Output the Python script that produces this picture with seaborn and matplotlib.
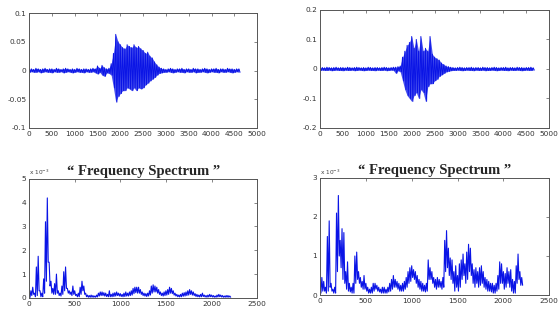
import numpy as np
import pandas as pd
import matplotlib
matplotlib.use("Agg")
import matplotlib.pyplot as plt
import seaborn as sns

sns.set_theme(style="white")
plt.rcParams["font.family"] = ["DejaVu Sans"]

# ---------------- data ----------------
# speech waveforms: upper / lower envelope every 50 samples
wave_step = 50
wave1_top = [0.002, 0.003, 0.002, 0.004, 0.003, 0.002, 0.003, 0.004, 0.002, 0.003,
             0.003, 0.002, 0.004, 0.003, 0.002, 0.003, 0.004, 0.003, 0.002, 0.003,
             0.002, 0.004, 0.003, 0.002, 0.003, 0.003, 0.002, 0.003, 0.004,
             0.003, 0.008, 0.004, 0.009, 0.005, 0.003, 0.004, 0.012,
             0.030, 0.063, 0.050, 0.045, 0.040, 0.038, 0.045, 0.042, 0.040, 0.045,
             0.040, 0.042, 0.038, 0.035, 0.030, 0.032, 0.025, 0.022, 0.015, 0.010,
             0.006, 0.004,
             0.003, 0.002, 0.003, 0.004, 0.003, 0.002, 0.003, 0.003, 0.004, 0.002,
             0.003, 0.003, 0.002, 0.004, 0.003, 0.003, 0.002, 0.003, 0.004, 0.003,
             0.002, 0.003, 0.003, 0.004, 0.002, 0.003, 0.003, 0.002, 0.004, 0.003,
             0.003, 0.002, 0.003, 0.003]
wave1_bot = [-0.003, -0.002, -0.003, -0.003, -0.002, -0.004, -0.003, -0.002, -0.003, -0.003,
             -0.004, -0.002, -0.003, -0.003, -0.002, -0.004, -0.003, -0.002, -0.003, -0.004,
             -0.003, -0.002, -0.003, -0.003, -0.004, -0.002, -0.003, -0.003, -0.002,
             -0.004, -0.006, -0.003, -0.008, -0.010, -0.004, -0.005, -0.008,
             -0.030, -0.055, -0.045, -0.040, -0.035, -0.035, -0.030, -0.032, -0.035, -0.030,
             -0.035, -0.030, -0.032, -0.030, -0.025, -0.022, -0.018, -0.015, -0.012, -0.008,
             -0.005, -0.004,
             -0.003, -0.003, -0.002, -0.003, -0.004, -0.003, -0.002, -0.003, -0.003, -0.004,
             -0.002, -0.003, -0.003, -0.002, -0.004, -0.003, -0.003, -0.002, -0.003, -0.004,
             -0.003, -0.002, -0.003, -0.003, -0.004, -0.002, -0.003, -0.003, -0.002, -0.003,
             -0.004, -0.003, -0.002, -0.003]

wave2_top = [0.004, 0.005, 0.004, 0.006, 0.005, 0.004, 0.005, 0.006, 0.004, 0.005,
             0.005, 0.004, 0.006, 0.005, 0.004, 0.005, 0.006, 0.005, 0.004, 0.005,
             0.004, 0.006, 0.005, 0.004, 0.005, 0.005, 0.004, 0.005, 0.006, 0.005,
             0.004, 0.005, 0.006,
             0.006, 0.008, 0.010,
             0.040, 0.060, 0.080, 0.090, 0.110, 0.070, 0.100, 0.060, 0.110, 0.060,
             0.070, 0.060, 0.110, 0.050, 0.040, 0.035, 0.030, 0.020, 0.015, 0.010,
             0.008, 0.006,
             0.005, 0.004, 0.005, 0.006, 0.005, 0.004, 0.005, 0.005, 0.006, 0.004,
             0.005, 0.005, 0.004, 0.006, 0.005, 0.005, 0.004, 0.005, 0.006, 0.005,
             0.004, 0.005, 0.005, 0.006, 0.004, 0.005, 0.005, 0.004, 0.006, 0.005,
             0.005, 0.004, 0.005, 0.005, 0.006, 0.004]
wave2_bot = [-0.005, -0.004, -0.005, -0.005, -0.004, -0.006, -0.005, -0.004, -0.005, -0.005,
             -0.006, -0.004, -0.005, -0.005, -0.004, -0.006, -0.005, -0.004, -0.005, -0.006,
             -0.005, -0.004, -0.005, -0.005, -0.006, -0.004, -0.005, -0.005, -0.004, -0.006,
             -0.005, -0.004, -0.005,
             -0.015, -0.006, -0.010,
             -0.040, -0.070, -0.090, -0.100, -0.110, -0.090, -0.080, -0.100, -0.070, -0.080,
             -0.110, -0.060, -0.050, -0.050, -0.040, -0.035, -0.025, -0.020, -0.015, -0.010,
             -0.008, -0.006,
             -0.005, -0.005, -0.004, -0.005, -0.006, -0.005, -0.004, -0.005, -0.005, -0.006,
             -0.004, -0.005, -0.005, -0.004, -0.006, -0.005, -0.005, -0.004, -0.005, -0.006,
             -0.005, -0.004, -0.005, -0.005, -0.006, -0.004, -0.005, -0.005, -0.004, -0.005,
             -0.006, -0.005, -0.004, -0.005, -0.005, -0.004]

# magnitude spectra (x 10^-3): peak / trough every 20 Hz
spec_step = 20
spec1_hi = [0.10, 0.30, 0.45, 0.20, 1.30, 1.75, 0.30, 0.20, 0.80, 3.20,
            4.20, 1.50, 0.70, 0.40, 0.60, 1.00, 0.30, 0.20, 0.50, 1.10,
            1.30, 0.40, 0.30, 0.25, 0.50, 0.30, 0.15, 0.20, 0.45, 0.70,
            0.50, 0.20, 0.12, 0.10, 0.12, 0.10, 0.08, 0.12, 0.20, 0.25,
            0.25, 0.22, 0.20, 0.15, 0.30, 0.15, 0.20, 0.22, 0.25, 0.20,
            0.18, 0.15, 0.20, 0.25, 0.20, 0.25, 0.30, 0.40, 0.45, 0.45,
            0.45, 0.35, 0.25, 0.20, 0.18, 0.20, 0.30, 0.50, 0.55, 0.50,
            0.45, 0.35, 0.25, 0.20, 0.25, 0.30, 0.35, 0.45, 0.40, 0.30,
            0.20, 0.15, 0.12, 0.15, 0.20, 0.22, 0.25, 0.30, 0.35, 0.30,
            0.25, 0.18, 0.15, 0.12, 0.15, 0.20, 0.12, 0.10, 0.12, 0.15,
            0.12, 0.10, 0.08, 0.12, 0.15, 0.12, 0.10, 0.08, 0.10, 0.10,
            0.08]
spec1_lo = [0.02, 0.10, 0.15, 0.05, 0.10, 0.30, 0.05, 0.05, 0.20, 0.70,
            1.50, 0.50, 0.20, 0.15, 0.15, 0.20, 0.10, 0.08, 0.15, 0.30,
            0.40, 0.20, 0.15, 0.10, 0.15, 0.10, 0.05, 0.05, 0.15, 0.30,
            0.15, 0.05, 0.03, 0.03, 0.03, 0.03, 0.03, 0.04, 0.08, 0.10,
            0.10, 0.08, 0.06, 0.05, 0.05, 0.05, 0.06, 0.08, 0.10, 0.08,
            0.06, 0.05, 0.06, 0.08, 0.08, 0.10, 0.12, 0.18, 0.22, 0.20,
            0.20, 0.15, 0.10, 0.08, 0.06, 0.08, 0.12, 0.20, 0.25, 0.25,
            0.20, 0.15, 0.10, 0.08, 0.10, 0.12, 0.15, 0.20, 0.18, 0.12,
            0.08, 0.05, 0.04, 0.05, 0.07, 0.08, 0.10, 0.12, 0.15, 0.12,
            0.10, 0.06, 0.05, 0.04, 0.05, 0.06, 0.04, 0.03, 0.04, 0.05,
            0.04, 0.03, 0.03, 0.04, 0.05, 0.04, 0.03, 0.03, 0.03, 0.03,
            0.03]
spec2_hi = [0.30, 0.45, 0.35, 0.20, 1.50, 1.90, 0.30, 0.15, 0.20, 2.10,
            2.55, 1.40, 1.70, 1.60, 0.60, 0.85, 0.30, 0.20, 0.30, 1.00,
            1.10, 0.60, 0.45, 0.35, 0.50, 0.30, 0.20, 0.15, 0.20, 0.30,
            0.30, 0.25, 0.20, 0.15, 0.20, 0.20, 0.15, 0.20, 0.30, 0.40,
            0.50, 0.40, 0.35, 0.30, 0.25, 0.30, 0.35, 0.45, 0.60, 0.70,
            0.75, 0.65, 0.60, 0.50, 0.40, 0.35, 0.30, 0.25, 0.30, 0.90,
            0.70, 0.60, 0.45, 0.40, 0.45, 0.40, 0.35, 0.45, 1.40, 1.65,
            1.20, 0.95, 0.90, 0.60, 0.75, 0.50, 0.80, 0.90, 1.05, 0.80,
            1.10, 1.30, 1.20, 0.80, 0.65, 0.70, 0.60, 0.70, 0.75, 0.60,
            0.45, 0.40, 0.35, 0.30, 0.30, 0.25, 0.30, 0.50, 0.85, 0.80,
            0.60, 0.55, 0.70, 0.60, 0.65, 0.40, 0.35, 0.75, 1.05, 0.60,
            0.45]
spec2_lo = [0.05, 0.10, 0.10, 0.05, 0.10, 0.20, 0.10, 0.05, 0.05, 0.60,
            1.00, 0.70, 0.40, 0.30, 0.15, 0.10, 0.08, 0.05, 0.05, 0.30,
            0.40, 0.30, 0.20, 0.15, 0.15, 0.10, 0.05, 0.05, 0.05, 0.10,
            0.15, 0.10, 0.08, 0.05, 0.05, 0.05, 0.05, 0.08, 0.10, 0.15,
            0.20, 0.20, 0.15, 0.10, 0.10, 0.10, 0.15, 0.20, 0.30, 0.35,
            0.45, 0.40, 0.30, 0.20, 0.15, 0.10, 0.10, 0.08, 0.10, 0.40,
            0.40, 0.30, 0.20, 0.15, 0.20, 0.20, 0.15, 0.20, 0.60, 0.70,
            0.50, 0.40, 0.30, 0.10, 0.20, 0.10, 0.20, 0.40, 0.50, 0.30,
            0.40, 0.60, 0.50, 0.30, 0.20, 0.30, 0.20, 0.25, 0.30, 0.20,
            0.15, 0.10, 0.10, 0.08, 0.05, 0.05, 0.10, 0.15, 0.30, 0.30,
            0.15, 0.20, 0.30, 0.20, 0.10, 0.05, 0.05, 0.30, 0.40, 0.25,
            0.25]

wave_xticks = [0, 500, 1000, 1500, 2000, 2500, 3000, 3500, 4000, 4500, 5000]
wave1_yticks = [-0.1, -0.05, 0, 0.05, 0.1]
wave1_ylabels = ["-0.1", "-0.05", "0", "0.05", "0.1"]
wave2_yticks = [-0.2, -0.1, 0, 0.1, 0.2]
wave2_ylabels = ["-0.2", "-0.1", "0", "0.1", "0.2"]
spec_xticks = [0, 500, 1000, 1500, 2000, 2500]
title = "\u201c Frequency Spectrum \u201d"


def zigzag(top, bot, step):
    # put each upper value at k*step and each lower value half a step later
    n = min(len(top), len(bot))
    x = np.empty(2 * n)
    y = np.empty(2 * n)
    x[0::2] = np.arange(n) * step
    x[1::2] = np.arange(n) * step + step / 2
    y[0::2] = top[:n]
    y[1::2] = bot[:n]
    return pd.DataFrame({"x": x, "y": y})


BLUE = "#0a14e6"


def style(ax, xlim, ylim, xticks, yticks, ylabels=None):
    ax.set_xlim(*xlim)
    ax.set_ylim(*ylim)
    ax.set_xticks(xticks)
    ax.set_xticklabels([str(t) for t in xticks])
    ax.set_yticks(yticks)
    ax.set_yticklabels(ylabels if ylabels else [str(t) for t in yticks])
    ax.set_xlabel("")
    ax.set_ylabel("")
    ax.tick_params(direction="in", top=True, right=True, length=2.2, width=0.5,
                   labelsize=5.3, pad=2)
    ax.tick_params(axis="both", colors="#555555", labelcolor="#333333")
    for sp in ax.spines.values():
        sp.set_color("#555555")
        sp.set_linewidth(0.7)


fig = plt.figure(figsize=(5.59, 3.2), dpi=100)
ax1 = fig.add_axes([0.052, 0.600, 0.408, 0.359])
ax2 = fig.add_axes([0.5725, 0.600, 0.410, 0.369])
ax3 = fig.add_axes([0.052, 0.069, 0.408, 0.372])
ax4 = fig.add_axes([0.5725, 0.078, 0.410, 0.366])

# waveforms: envelope fill + dense oscillation on top
for ax, top, bot in ((ax1, wave1_top, wave1_bot), (ax2, wave2_top, wave2_bot)):
    n = min(len(top), len(bot))
    ax.fill_between(np.arange(n) * wave_step, top[:n], bot[:n],
                    color="#2530ea", alpha=0.85, lw=0)
    sns.lineplot(data=zigzag(top, bot, wave_step), x="x", y="y", ax=ax,
                 color=BLUE, lw=0.7, estimator=None, sort=False)

sns.lineplot(data=zigzag(spec1_hi, spec1_lo, spec_step), x="x", y="y", ax=ax3,
             color=BLUE, lw=0.8, estimator=None, sort=False)
sns.lineplot(data=zigzag(spec2_hi, spec2_lo, spec_step), x="x", y="y", ax=ax4,
             color=BLUE, lw=0.8, estimator=None, sort=False)

style(ax1, (0, 5000), (-0.1, 0.1), wave_xticks, wave1_yticks, wave1_ylabels)
style(ax2, (0, 5000), (-0.2, 0.2), wave_xticks, wave2_yticks, wave2_ylabels)
style(ax3, (0, 2500), (0, 5), spec_xticks, [0, 1, 2, 3, 4, 5])
style(ax4, (0, 2500), (0, 3), spec_xticks, [0, 1, 2, 3])

for ax in (ax3, ax4):
    ax.set_title(title, fontsize=10.5, fontweight="bold",
                 family=["Liberation Serif", "DejaVu Serif"], pad=3)
    ax.text(0.0, 1.012, "x 10$^{-3}$", transform=ax.transAxes, fontsize=4.2,
            color="#444444", ha="left", va="bottom")

fig.savefig("out.png", dpi=100, facecolor="white")
